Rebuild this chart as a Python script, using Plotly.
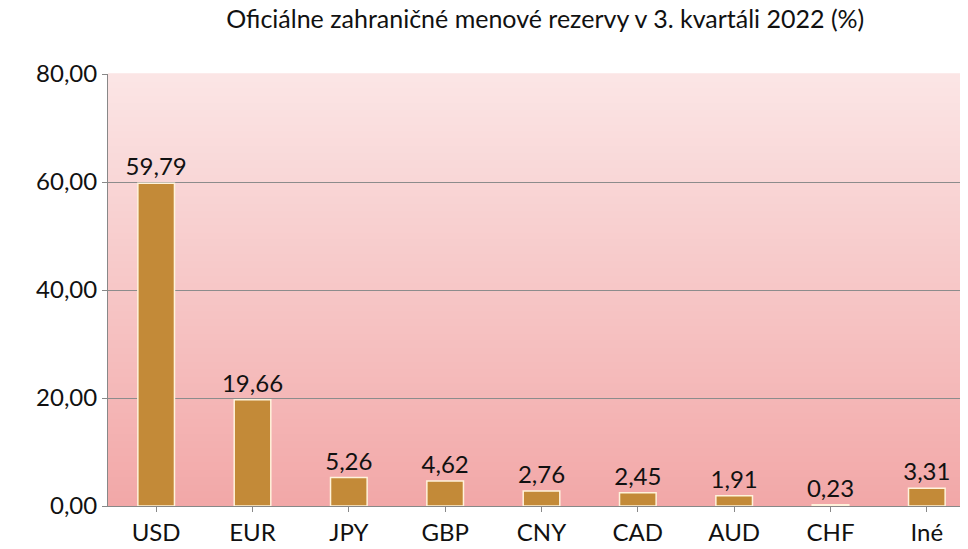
import plotly.graph_objects as go

categories = ["USD", "EUR", "JPY", "GBP", "CNY", "CAD", "AUD", "CHF", "Iné"]
values = [59.79, 19.66, 5.26, 4.62, 2.76, 2.45, 1.91, 0.23, 3.31]
labels = [f"{v:.2f}".replace(".", ",") for v in values]
y_ticks = [0, 20, 40, 60, 80]
y_tick_labels = ["0,00", "20,00", "40,00", "60,00", "80,00"]

fig = go.Figure()
fig.add_trace(
    go.Bar(
        x=categories,
        y=values,
        width=0.38,
        marker=dict(color="#C38A38", line=dict(color="#FFF3DC", width=1.5)),
        text=labels,
        textposition="outside",
        constraintext="none",
        textfont=dict(size=24, color="#111111"),
        cliponaxis=False,
    )
)

# gradient background, light pink at top to darker pink at bottom
top = (251, 229, 229)
bottom = (242, 168, 168)
n = 60
shapes = []
for i in range(n):
    t = i / (n - 1)
    c = tuple(round(bottom[k] + (top[k] - bottom[k]) * t) for k in range(3))
    shapes.append(
        dict(
            type="rect", xref="paper", yref="paper",
            x0=0, x1=1, y0=i / n, y1=(i + 1) / n + 0.002,
            fillcolor=f"rgb{c}", line=dict(width=0), layer="below",
        )
    )

fig.update_layout(
    width=968,
    height=549,
    margin=dict(l=100, r=1, t=66, b=51, autoexpand=False),
    paper_bgcolor="white",
    plot_bgcolor="rgba(0,0,0,0)",
    shapes=shapes,
    showlegend=False,
    font=dict(family="Lato, Open Sans, sans-serif", color="#111111"),
    title=dict(
        text="Oficiálne zahraničné menové rezervy v 3. kvartáli 2022 (%)",
        x=0.555, xanchor="center", y=0.995, yanchor="top",
        font=dict(size=25),
    ),
)
fig.update_xaxes(
    showline=True, linecolor="#888888", ticks="outside", ticklen=5,
    tickcolor="#888888", tickfont=dict(size=24), showgrid=False,
)
fig.update_yaxes(
    range=[0, 80], tickvals=y_ticks, ticktext=y_tick_labels,
    showgrid=True, gridcolor="#8c8c8c", gridwidth=1,
    showline=True, linecolor="#888888", ticks="outside", ticklen=5,
    tickcolor="#888888", tickfont=dict(size=24), zeroline=False,
)

fig.write_html("out.html")
